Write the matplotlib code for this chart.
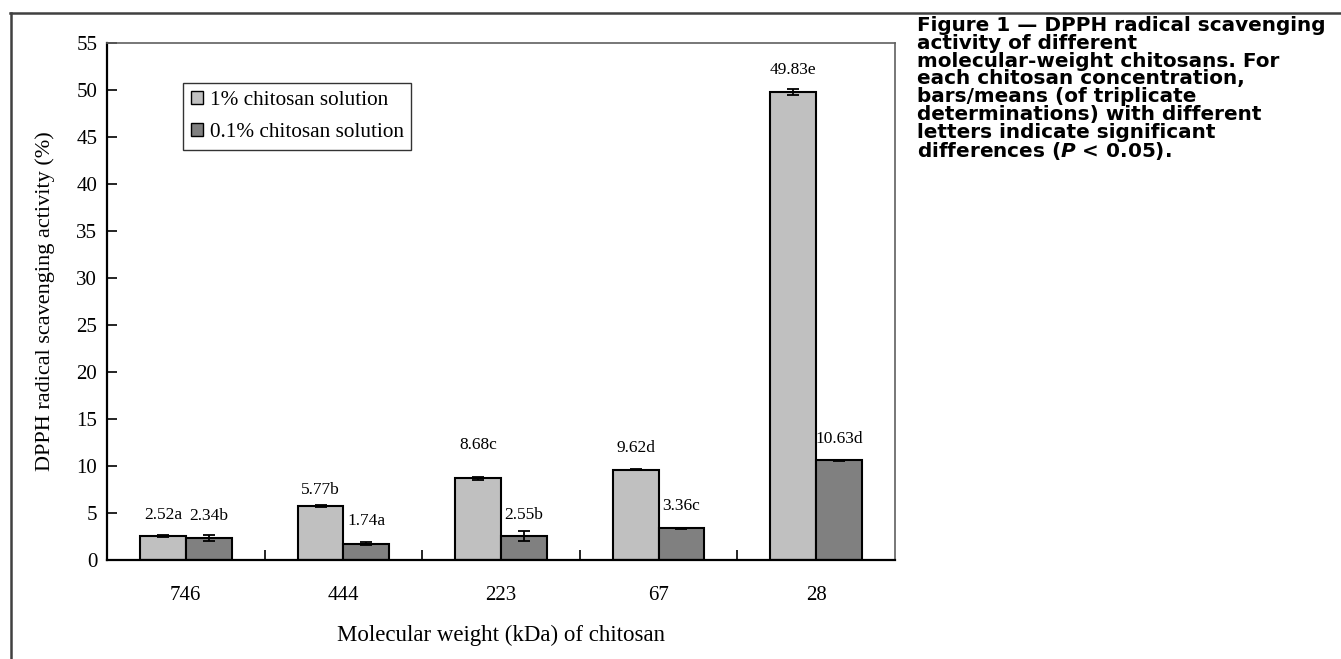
import numpy as np
import matplotlib
matplotlib.use("Agg")
import matplotlib.pyplot as plt
from matplotlib.lines import Line2D

# ---- data ----
categories = ["746", "444", "223", "67", "28"]
series_names = ["1% chitosan solution", "0.1% chitosan solution"]
conc_1pct = [2.52, 5.77, 8.68, 9.62, 49.83]
conc_01pct = [2.34, 1.74, 2.55, 3.36, 10.63]
err_1pct = [0.12, 0.10, 0.18, 0.05, 0.32]
err_01pct = [0.30, 0.18, 0.55, 0.05, 0.05]
letters_1pct = ["a", "b", "c", "d", "e"]
letters_01pct = ["b", "a", "b", "c", "d"]
yticks = list(range(0, 56, 5))

# label offsets above bar tops (points) - styling
off_1pct = [15.5, 11.0, 24.0, 15.5, 15.5]
off_01pct = [16.0, 16.0, 15.5, 16.0, 15.5]

plt.rcParams["font.family"] = ["Liberation Serif", "DejaVu Serif"]
plt.rcParams["mathtext.fontset"] = "custom"
plt.rcParams["mathtext.it"] = "DejaVu Sans:bold:italic"
plt.rcParams["mathtext.rm"] = "DejaVu Sans:bold"

fig = plt.figure(figsize=(13.41, 6.59), dpi=100)
ax = fig.add_axes([107 / 1341, 99 / 659, 788 / 1341, 517 / 659])

x = np.arange(len(categories))
w = 0.29
c1, c2 = "#C0C0C0", "#808080"
ekw = dict(elinewidth=1.3, capthick=1.3, ecolor="black")
ax.bar(x - w / 2, conc_1pct, w, color=c1, edgecolor="black", linewidth=1.5,
       yerr=err_1pct, capsize=4.5, error_kw=ekw, label=series_names[0], zorder=2)
ax.bar(x + w / 2, conc_01pct, w, color=c2, edgecolor="black", linewidth=1.5,
       yerr=err_01pct, capsize=4.5, error_kw=ekw, label=series_names[1], zorder=2)

for i in range(len(categories)):
    ax.annotate(f"{conc_1pct[i]:.2f}{letters_1pct[i]}", xy=(x[i] - w / 2, conc_1pct[i]),
                xytext=(0, off_1pct[i]), textcoords="offset points",
                ha="center", va="center", fontsize=12.5)
    ax.annotate(f"{conc_01pct[i]:.2f}{letters_01pct[i]}", xy=(x[i] + w / 2, conc_01pct[i]),
                xytext=(0, off_01pct[i]), textcoords="offset points",
                ha="center", va="center", fontsize=12.5)

ax.set_xlim(-0.5, len(categories) - 0.5)
ax.set_ylim(0, 55)
ax.set_yticks(yticks)
ax.set_xticks(x)
ax.set_xticklabels(categories)
ax.set_xticks(x[:-1] + 0.5, minor=True)
ax.tick_params(axis="x", which="major", length=0, pad=19, labelsize=15)
ax.tick_params(axis="x", which="minor", direction="in", length=7, width=1.2)
ax.tick_params(axis="y", direction="in", length=7, width=1.2, pad=7, labelsize=15)

for s in ["left", "bottom"]:
    ax.spines[s].set_linewidth(1.6)
    ax.spines[s].set_color("black")
for s in ["top", "right"]:
    ax.spines[s].set_linewidth(1.2)
    ax.spines[s].set_color("#606060")

ax.set_ylabel("DPPH radical scavenging activity (%)", fontsize=16)
ax.yaxis.set_label_coords(-0.066, 0.5)
ax.set_xlabel("Molecular weight (kDa) of chitosan", fontsize=16.5, labelpad=14)

leg = ax.legend(loc="upper left", bbox_to_anchor=(0.0964, 0.9226), fontsize=15.3,
                frameon=True, fancybox=False, edgecolor="black", handlelength=0.55,
                handleheight=0.55, handletextpad=0.33, labelspacing=0.63,
                borderpad=0.37, borderaxespad=0)
leg.get_frame().set_linewidth(1.0)
for h in leg.legend_handles:
    h.set_linewidth(1.0)

# outer frame lines
fig.add_artist(Line2D([10 / 1341, 1.0], [1 - 13 / 659, 1 - 13 / 659], color="#404040", lw=1.8))
fig.add_artist(Line2D([11 / 1341, 11 / 1341], [0, 1 - 13 / 659], color="#404040", lw=1.8))

caption = ("Figure 1 — DPPH radical scavenging\n"
           "activity of different\n"
           "molecular-weight chitosans. For\n"
           "each chitosan concentration,\n"
           "bars/means (of triplicate\n"
           "determinations) with different\n"
           "letters indicate significant\n"
           "differences ($P$ < 0.05).")
fig.text(917 / 1341, 1 - 16 / 659, caption, ha="left", va="top", fontsize=14.4,
         family="DejaVu Sans", weight="bold", linespacing=0.92)

fig.savefig("out.png", dpi=100)
